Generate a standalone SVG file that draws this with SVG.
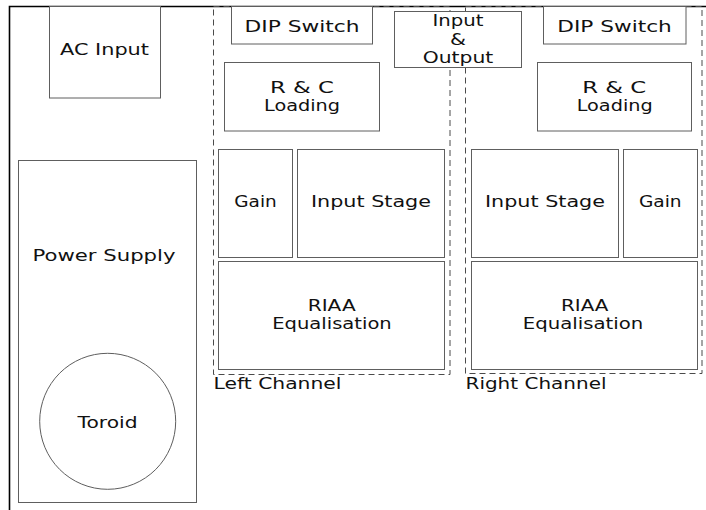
<svg xmlns="http://www.w3.org/2000/svg" width="706" height="510" viewBox="0 0 706 510">
  <style>
    .box { fill: #ffffff; stroke: #5e5e5e; stroke-width: 1; }
    .chan { fill: none; stroke: #4a4a4a; stroke-width: 1; stroke-dasharray: 6 4; }
    .frame { fill: none; stroke: #000000; stroke-width: 1.6; }
    text { font-family: "DejaVu Sans", "Liberation Sans", sans-serif; font-size: 15.5px; fill: #111111; text-anchor: middle; }
    .lbl { text-anchor: start; }
  </style>

  <rect x="0" y="0" width="706" height="510" fill="#ffffff"/>

  <!-- enclosure edges -->
  <g id="frame">
    <path class="frame" d="M9.5,510 V6.5 H706"/>
  </g>

  <!-- channel boundaries -->
  <g id="left-channel">
    <rect class="chan" x="213.5" y="6.5" width="236.5" height="368"/>
    <text class="lbl" x="213.5" y="388.5" textLength="128" lengthAdjust="spacingAndGlyphs">Left Channel</text>
  </g>
  <g id="right-channel">
    <rect class="chan" x="465.5" y="6.5" width="236.5" height="367"/>
    <text class="lbl" x="465.5" y="388.5" textLength="141" lengthAdjust="spacingAndGlyphs">Right Channel</text>
  </g>

  <g id="connectors"></g>

  <g id="ac-input">
    <rect class="box" x="49.5" y="6.5" width="111" height="91.5"/>
    <text x="104.5" y="55" textLength="89" lengthAdjust="spacingAndGlyphs">AC Input</text>
  </g>

  <g id="power-supply">
    <rect class="box" x="18.5" y="160.5" width="178" height="342"/>
    <text x="104" y="261" textLength="143" lengthAdjust="spacingAndGlyphs">Power Supply</text>
  </g>
  <g id="toroid">
    <circle class="box" cx="107.7" cy="421.3" r="68"/>
    <text x="107.5" y="428" textLength="60" lengthAdjust="spacingAndGlyphs">Toroid</text>
  </g>

  <g id="dip-switch-left">
    <rect class="box" x="231.5" y="6.5" width="141" height="37.5"/>
    <text x="302" y="31.7" textLength="115" lengthAdjust="spacingAndGlyphs">DIP Switch</text>
  </g>
  <g id="rc-loading-left">
    <rect class="box" x="224.5" y="62.5" width="155" height="68.5"/>
    <text x="302" y="92.7" textLength="64" lengthAdjust="spacingAndGlyphs">R &amp; C</text>
    <text x="302" y="110.7" textLength="76" lengthAdjust="spacingAndGlyphs">Loading</text>
  </g>
  <g id="gain-left">
    <rect class="box" x="218.5" y="149.5" width="74" height="108"/>
    <text x="255.5" y="206.7" textLength="42.5" lengthAdjust="spacingAndGlyphs">Gain</text>
  </g>
  <g id="input-stage-left">
    <rect class="box" x="297.5" y="149.5" width="147" height="108"/>
    <text x="371" y="206.7" textLength="120" lengthAdjust="spacingAndGlyphs">Input Stage</text>
  </g>
  <g id="riaa-left">
    <rect class="box" x="218.5" y="261.5" width="226" height="108"/>
    <text x="331.7" y="310.7" textLength="48" lengthAdjust="spacingAndGlyphs">RIAA</text>
    <text x="332" y="328.5" textLength="119.5" lengthAdjust="spacingAndGlyphs">Equalisation</text>
  </g>

  <g id="input-output">
    <rect class="box" x="394.5" y="11.5" width="127" height="56"/>
    <text x="458" y="26" textLength="51" lengthAdjust="spacingAndGlyphs">Input</text>
    <text x="458" y="45" textLength="16" lengthAdjust="spacingAndGlyphs">&amp;</text>
    <text x="458" y="63.3" textLength="70.5" lengthAdjust="spacingAndGlyphs">Output</text>
  </g>

  <g id="dip-switch-right">
    <rect class="box" x="543.5" y="6.5" width="142.5" height="37.5"/>
    <text x="614.5" y="31.7" textLength="114.5" lengthAdjust="spacingAndGlyphs">DIP Switch</text>
  </g>
  <g id="rc-loading-right">
    <rect class="box" x="537.5" y="62.5" width="154" height="68.5"/>
    <text x="614.2" y="92.7" textLength="64" lengthAdjust="spacingAndGlyphs">R &amp; C</text>
    <text x="614.7" y="110.7" textLength="76" lengthAdjust="spacingAndGlyphs">Loading</text>
  </g>
  <g id="input-stage-right">
    <rect class="box" x="471.5" y="149.5" width="147" height="108"/>
    <text x="545" y="206.7" textLength="120" lengthAdjust="spacingAndGlyphs">Input Stage</text>
  </g>
  <g id="gain-right">
    <rect class="box" x="623.5" y="149.5" width="74" height="108"/>
    <text x="660.3" y="206.7" textLength="42.7" lengthAdjust="spacingAndGlyphs">Gain</text>
  </g>
  <g id="riaa-right">
    <rect class="box" x="471.5" y="261.5" width="226" height="108"/>
    <text x="584.7" y="310.7" textLength="47.5" lengthAdjust="spacingAndGlyphs">RIAA</text>
    <text x="583" y="328.5" textLength="120.5" lengthAdjust="spacingAndGlyphs">Equalisation</text>
  </g>
</svg>
